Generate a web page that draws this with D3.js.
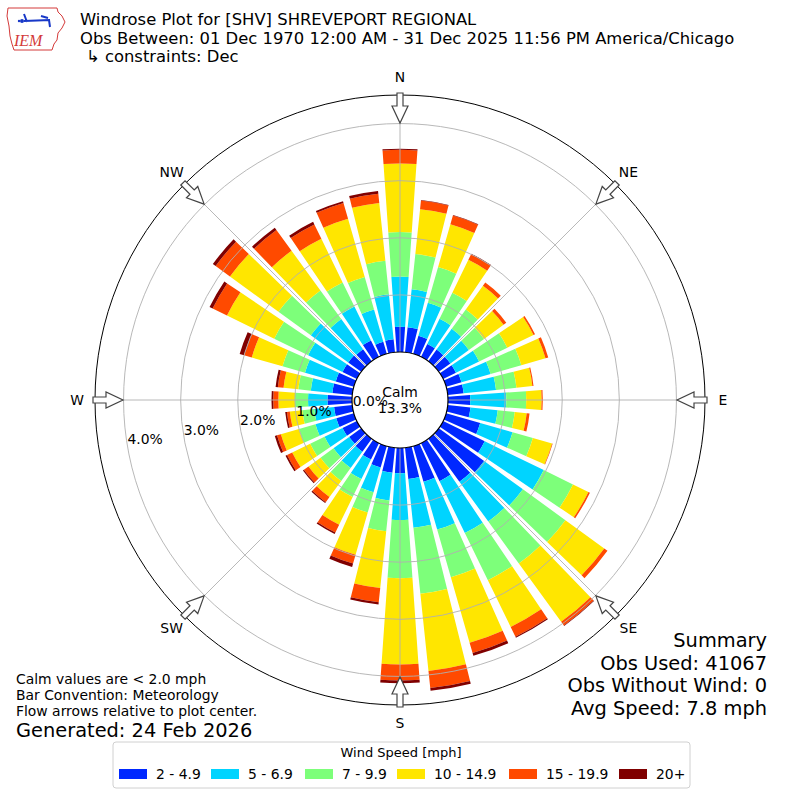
<!DOCTYPE html>
<html>
<head>
<meta charset="utf-8">
<script src="https://cdn.jsdelivr.net/npm/d3@7"></script>
<style>
body { margin: 0; background: #fff; }
svg { font-family: "DejaVu Sans", sans-serif; }
</style>
</head>
<body>
<svg id="chart" width="800" height="800"></svg>
<script>
// Direction bins (degrees, meteorological: direction wind comes from)
const directions = [0, 10, 20, 30, 40, 50, 60, 70, 80, 90, 100, 110, 120, 130, 140, 150, 160, 170,
                    180, 190, 200, 210, 220, 230, 240, 250, 260, 270, 280, 290, 300, 310, 320, 330, 340, 350];

const speedBins = ["2 - 4.9", "5 - 6.9", "7 - 9.9", "10 - 14.9", "15 - 19.9", "20+"];
const binColors = ["#0028ff", "#00d4ff", "#7dff7a", "#ffe600", "#ff4a00", "#800000"];

// Percent of observations per direction, one array per speed bin
const pct2to5 = [0.44, 0.44, 0.33, 0.25, 0.25, 0.25, 0.25, 0.28, 0.28, 0.39, 0.40, 0.62, 0.81, 0.98, 0.93, 0.74, 0.65, 0.55,
                 0.44, 0.44, 0.39, 0.32, 0.28, 0.26, 0.28, 0.32, 0.32, 0.43, 0.35, 0.33, 0.28, 0.28, 0.26, 0.32, 0.22, 0.23];
const pct5to7 = [0.88, 0.67, 0.60, 0.49, 0.45, 0.40, 0.45, 0.53, 0.57, 0.63, 0.48, 0.59, 1.15, 0.84, 0.86, 1.01, 0.87, 0.86,
                 0.82, 0.49, 0.45, 0.38, 0.35, 0.34, 0.35, 0.38, 0.35, 0.34, 0.38, 0.56, 0.67, 0.81, 0.65, 0.66, 0.59, 0.79];
const pct7to10 = [0.78, 0.62, 0.65, 0.51, 0.42, 0.33, 0.55, 0.56, 0.36, 0.35, 0.30, 0.37, 0.57, 0.92, 0.91, 0.92, 0.87, 1.16,
                  1.02, 0.54, 0.37, 0.35, 0.28, 0.28, 0.28, 0.30, 0.21, 0.23, 0.22, 0.41, 0.66, 0.70, 0.62, 0.47, 0.59, 0.59];
const pct10to15 = [1.20, 0.79, 0.78, 0.64, 0.51, 0.42, 0.51, 0.44, 0.28, 0.27, 0.21, 0.35, 0.30, 0.84, 1.26, 0.91, 1.19, 1.36,
                   1.51, 1.00, 0.77, 0.54, 0.35, 0.26, 0.35, 0.33, 0.22, 0.29, 0.26, 0.56, 0.92, 1.05, 0.86, 0.85, 1.06, 1.02];
const pct15to20 = [0.24, 0.15, 0.16, 0.11, 0.07, 0.06, 0.03, 0.05, 0.02, 0.02, 0.05, 0.01, 0.03, 0.07, 0.08, 0.19, 0.19, 0.30,
                   0.28, 0.25, 0.16, 0.15, 0.11, 0.10, 0.10, 0.07, 0.05, 0.09, 0.10, 0.14, 0.28, 0.31, 0.45, 0.28, 0.29, 0.16];
const pct20up = [0.02, 0.01, 0.01, 0.01, 0.00, 0.00, 0.00, 0.00, 0.00, 0.00, 0.00, 0.00, 0.00, 0.00, 0.01, 0.02, 0.05, 0.05,
                 0.05, 0.04, 0.06, 0.03, 0.02, 0.02, 0.03, 0.04, 0.03, 0.03, 0.04, 0.08, 0.06, 0.06, 0.05, 0.05, 0.03, 0.05];

const rTicks = [0, 1, 2, 3, 4];
const compassLabels = ["N", "NE", "E", "SE", "S", "SW", "W", "NW"];
const compassAngles = [0, 45, 90, 135, 180, 225, 270, 315];
const calmPct = 13.3;

const titleLines = ["Windrose Plot for [SHV] SHREVEPORT REGIONAL",
                    "Obs Between: 01 Dec 1970 12:00 AM - 31 Dec 2025 11:56 PM America/Chicago",
                    "\u21b3 constraints: Dec"];
const noteLines = ["Calm values are < 2.0 mph", "Bar Convention: Meteorology", "Flow arrows relative to plot center."];
const summaryLines = ["Summary", "Obs Used: 41067", "Obs Without Wind: 0", "Avg Speed: 7.8 mph"];

const svg = d3.select("#chart");
const cx = 400, cy = 400;

// radial scale: 0% sits on the calm circle
const r = d3.scaleLinear().domain([0, 4.5]).range([48, 305]);
const ang = d3.scaleLinear().domain([0, 360]).range([0, 2 * Math.PI]);
const halfWidth = 4; // degrees

function polar(deg, rad) {
    const a = ang(deg);
    return [cx + rad * Math.sin(a), cy - rad * Math.cos(a)];
}

// ---- logo (rough IEM mark) ----
const logo = svg.append("g");
logo.append("path")
    .attr("d", "M8,8 L57,8 L58,12 L62,16 L65,22 L62,28 L58,33 L57,40 L54,44 L52,50 L14,50 L12,44 L10,36 L9,26 L7,16 Z")
    .attr("fill", "#fff").attr("stroke", "#d43a3a").attr("stroke-width", 1);
logo.append("path")
    .attr("d", "M24,21 L50,20 M24,14 L27,22 M41,16 L48,18 M49,20 L50,27")
    .attr("fill", "none").attr("stroke", "#1838c8").attr("stroke-width", 2);
logo.append("circle").attr("cx", 22).attr("cy", 21).attr("r", 2).attr("fill", "#1838c8");
logo.append("circle").attr("cx", 19).attr("cy", 21).attr("r", 1.2).attr("fill", "#1838c8");
logo.append("text").attr("x", 14).attr("y", 46)
    .style("font-family", "'Liberation Serif', serif").style("font-style", "italic")
    .style("font-size", "16px").attr("fill", "#d43a3a").text("IEM");

// ---- title ----
svg.selectAll(".title")
    .data(titleLines)
    .enter().append("text")
    .attr("x", (d, i) => i == 2 ? 86 : 80)
    .attr("y", (d, i) => 25 + i * 18.5)
    .style("font-size", "16.4px")
    .text(d => d);

// ---- stacked bars ----
const rows = directions.map((d, i) => ({
    dir: d, b0: pct2to5[i], b1: pct5to7[i], b2: pct7to10[i],
    b3: pct10to15[i], b4: pct15to20[i], b5: pct20up[i]
}));
const stacked = d3.stack().keys(["b0", "b1", "b2", "b3", "b4", "b5"])(rows);

const arc = d3.arc()
    .innerRadius(d => r(d[0]))
    .outerRadius(d => r(d[1]))
    .startAngle(d => ang(d.data.dir - halfWidth))
    .endAngle(d => ang(d.data.dir + halfWidth));

const bars = svg.append("g").attr("transform", `translate(${cx},${cy})`);
stacked.forEach((layer, li) => {
    bars.selectAll(".bar" + li)
        .data(layer.filter(d => d[1] > d[0]))
        .enter().append("path")
        .attr("d", arc)
        .attr("fill", binColors[li]);
});

// ---- grid on top of bars ----
const grid = svg.append("g");
grid.selectAll(".ring")
    .data(rTicks.slice(1))
    .enter().append("circle")
    .attr("cx", cx).attr("cy", cy)
    .attr("r", d => r(d))
    .attr("fill", "none").attr("stroke", "#b0b0b0").attr("stroke-width", 0.9);
grid.selectAll(".spoke")
    .data(compassAngles)
    .enter().append("line")
    .attr("x1", d => polar(d, r(0))[0]).attr("y1", d => polar(d, r(0))[1])
    .attr("x2", d => polar(d, r.range()[1])[0]).attr("y2", d => polar(d, r.range()[1])[1])
    .attr("stroke", "#b0b0b0").attr("stroke-width", 0.9);

svg.append("circle")
    .attr("cx", cx).attr("cy", cy).attr("r", r.range()[1])
    .attr("fill", "none").attr("stroke", "#000").attr("stroke-width", 1);

// calm circle
svg.append("circle")
    .attr("cx", cx).attr("cy", cy).attr("r", r(0))
    .attr("fill", "#fff").attr("stroke", "#000").attr("stroke-width", 1.2);
svg.append("text").attr("x", cx).attr("y", 397)
    .attr("text-anchor", "middle").style("font-size", "13.9px").text("Calm");
svg.append("text").attr("x", cx).attr("y", 413)
    .attr("text-anchor", "middle").style("font-size", "13.9px").text(calmPct.toFixed(1) + "%");

// radial tick labels, laid along ~260 deg
svg.selectAll(".rlabel")
    .data(rTicks)
    .enter().append("text")
    .attr("x", d => polar(260.4, r(d))[0])
    .attr("y", d => polar(260.4, r(d))[1] - 2)
    .style("font-size", "13.9px")
    .text(d => d.toFixed(1) + "%");

// ---- flow arrows at the 8 compass points ----
const rOut = r.range()[1];
const arrowShape = [[rOut + 2, -3], [rOut - 11, -3], [rOut - 11, -8], [rOut - 28, 0],
                    [rOut - 11, 8], [rOut - 11, 3], [rOut + 2, 3]];
svg.selectAll(".arrow")
    .data(compassAngles)
    .enter().append("path")
    .attr("d", deg => {
        const a = ang(deg);
        const pts = arrowShape.map(([along, perp]) => [
            cx + along * Math.sin(a) + perp * Math.cos(a),
            cy - along * Math.cos(a) + perp * Math.sin(a)
        ]);
        return "M" + pts.map(p => p.join(",")).join("L") + "Z";
    })
    .attr("fill", "#fff").attr("stroke", "#444").attr("stroke-width", 1.2);

svg.selectAll(".compass")
    .data(compassAngles)
    .enter().append("text")
    .attr("x", d => polar(d, 323)[0])
    .attr("y", d => polar(d, 323)[1])
    .attr("text-anchor", "middle")
    .attr("dominant-baseline", "central")
    .style("font-size", "13.9px")
    .text((d, i) => compassLabels[i]);

// ---- notes and summary ----
svg.selectAll(".note")
    .data(noteLines)
    .enter().append("text")
    .attr("x", 16).attr("y", (d, i) => 684 + i * 16)
    .style("font-size", "13.9px")
    .text(d => d);
svg.append("text").attr("x", 16).attr("y", 737)
    .style("font-size", "19.4px").text("Generated: 24 Feb 2026");

svg.selectAll(".summary")
    .data(summaryLines)
    .enter().append("text")
    .attr("x", 767).attr("y", (d, i) => 647 + i * 22.5)
    .attr("text-anchor", "end")
    .style("font-size", "19.4px")
    .text(d => d);

// ---- legend ----
const legend = svg.append("g");
legend.append("rect")
    .attr("x", 113).attr("y", 742).attr("width", 577).attr("height", 46).attr("rx", 3)
    .attr("fill", "#fff").attr("stroke", "#d0d0d0");
legend.append("text").attr("x", 401).attr("y", 757)
    .attr("text-anchor", "middle").style("font-size", "13px").text("Wind Speed [mph]");
const legendX = [119, 211, 305, 397, 509, 619];
legend.selectAll(".lpatch")
    .data(speedBins)
    .enter().append("rect")
    .attr("x", (d, i) => legendX[i]).attr("y", 769)
    .attr("width", 28).attr("height", 10)
    .attr("fill", (d, i) => binColors[i]);
legend.selectAll(".llabel")
    .data(speedBins)
    .enter().append("text")
    .attr("x", (d, i) => legendX[i] + 37).attr("y", 779)
    .style("font-size", "13.9px")
    .text(d => d);
</script>
</body>
</html>
